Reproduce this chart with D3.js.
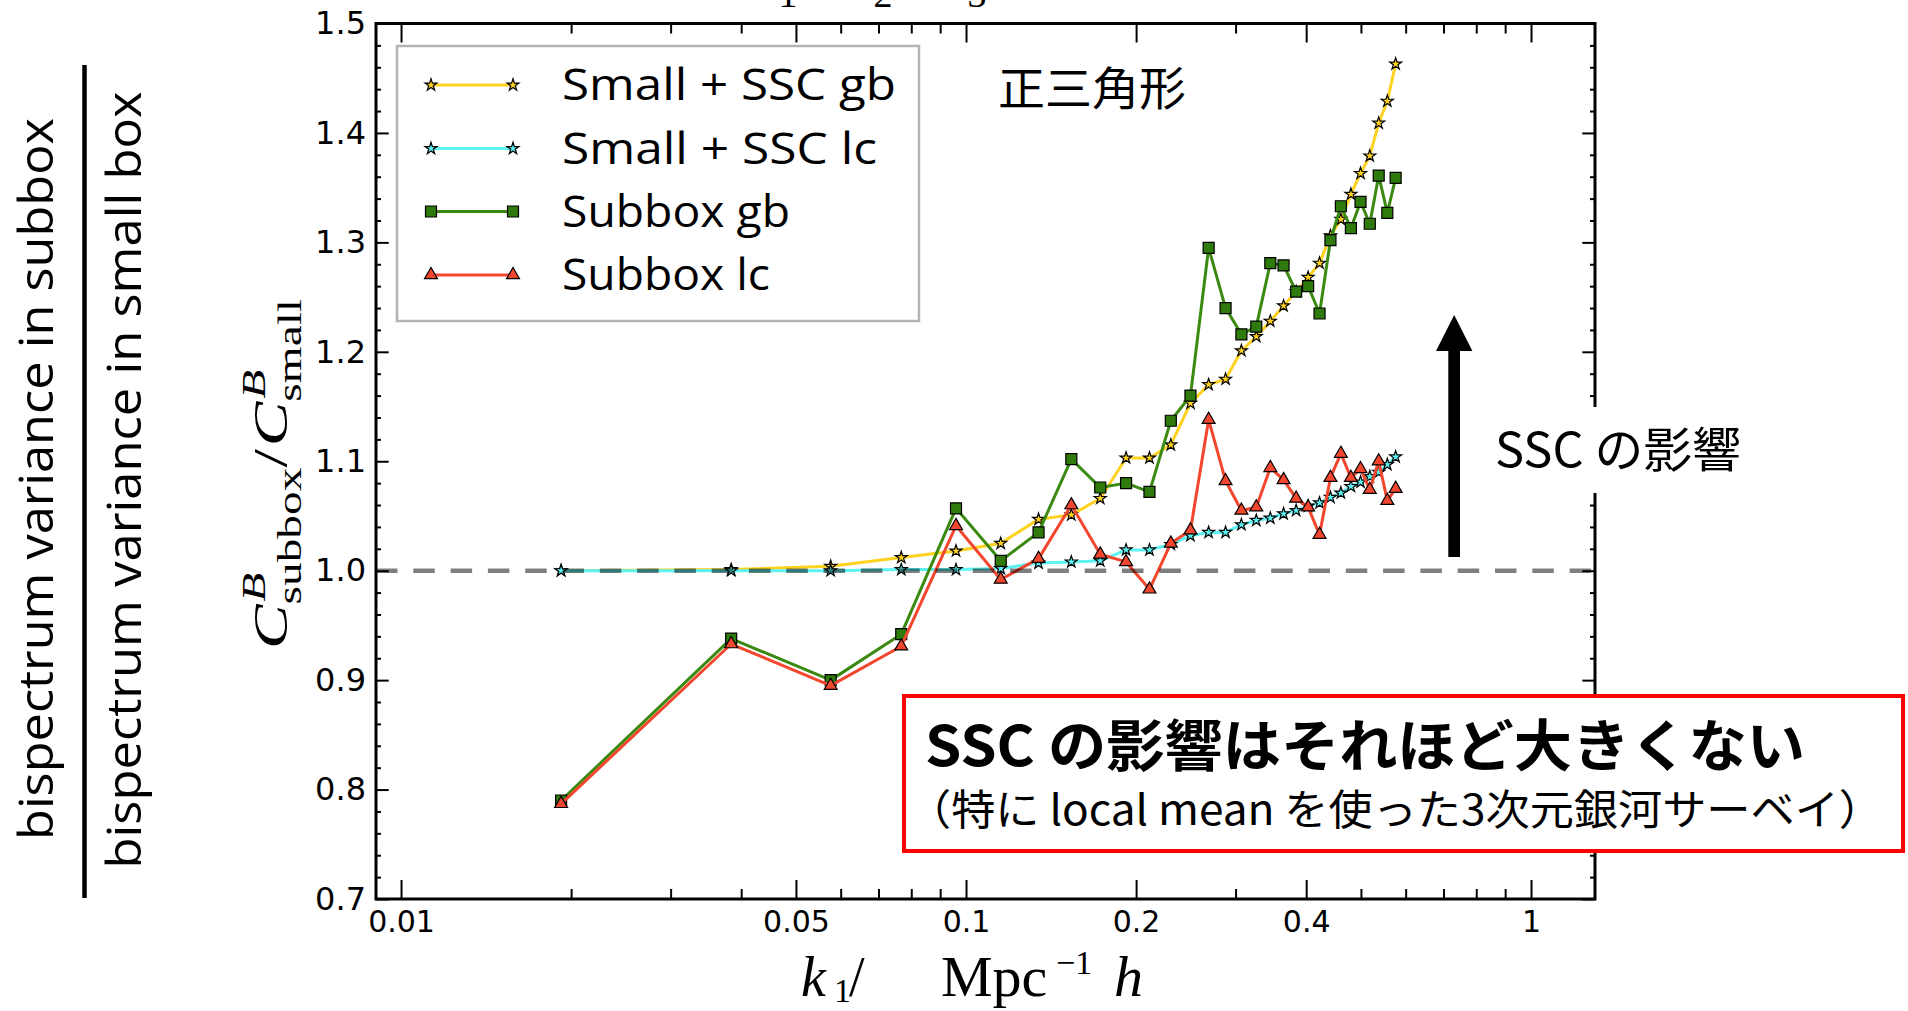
<!DOCTYPE html>
<html><head><meta charset="utf-8">
<script src="https://cdn.jsdelivr.net/npm/d3@7"></script>
<style>html,body{margin:0;padding:0;background:#fff;overflow:hidden}</style>
</head><body>
<svg id="c" width="1908" height="1011" xmlns="http://www.w3.org/2000/svg"></svg>
<script>
// ---------------- DATA ----------------
const kValues = [0.0192,0.0384,0.0576,0.0768,0.0960,0.1152,0.1344,0.1536,0.1728,0.1920,
                 0.2112,0.2304,0.2496,0.2688,0.2880,0.3072,0.3264,0.3456,0.3648,0.3840,
                 0.4032,0.4224,0.4416,0.4608,0.4800,0.4992,0.5184,0.5376,0.5568,0.5760];
const smallSscGb = [1.000,1.001,1.004,1.012,1.018,1.025,1.047,1.051,1.066,1.103,
                    1.103,1.115,1.153,1.170,1.175,1.201,1.214,1.228,1.242,1.255,
                    1.268,1.281,1.306,1.321,1.344,1.363,1.379,1.409,1.429,1.463];
const smallSscLc = [1.000,1.000,1.000,1.001,1.001,1.002,1.007,1.008,1.009,1.019,
                    1.019,1.024,1.032,1.035,1.035,1.042,1.046,1.048,1.052,1.055,
                    1.059,1.062,1.067,1.071,1.077,1.081,1.086,1.090,1.097,1.104];
const subboxGb   = [0.790,0.938,0.900,0.942,1.057,1.009,1.035,1.102,1.076,1.080,
                    1.072,1.137,1.160,1.295,1.240,1.216,1.223,1.281,1.279,1.255,
                    1.260,1.235,1.302,1.333,1.313,1.337,1.317,1.361,1.327,1.359];
const subboxLc   = [0.787,0.933,0.895,0.931,1.041,0.992,1.011,1.060,1.015,1.008,
                    0.983,1.025,1.037,1.138,1.082,1.055,1.058,1.094,1.083,1.066,
                    1.058,1.033,1.085,1.107,1.085,1.093,1.074,1.100,1.064,1.075];
const seriesNames = ["Small + SSC gb","Small + SSC lc","Subbox gb","Subbox lc"];
const xMajorTicks = [0.01,0.05,0.1,0.2,0.4,1];
const xTickLabels = ["0.01","0.05","0.1","0.2","0.4","1"];
const xMinorTicks = [0.02,0.03,0.04,0.06,0.07,0.08,0.09,0.3,0.5,0.6,0.7,0.8,0.9];
const yMajorTicks = [0.7,0.8,0.9,1.0,1.1,1.2,1.3,1.4,1.5];
const yTickLabels = ["0.7","0.8","0.9","1.0","1.1","1.2","1.3","1.4","1.5"];
const yMinorTicks = [0.72,0.74,0.76,0.78,0.82,0.84,0.86,0.88,0.92,0.94,0.96,0.98,
                     1.02,1.04,1.06,1.08,1.12,1.14,1.16,1.18,1.22,1.24,1.26,1.28,
                     1.32,1.34,1.36,1.38,1.42,1.44,1.46,1.48];
const referenceLevel = 1.0;
const leftLabelTop = "bispectrum variance in subbox";
const leftLabelBottom = "bispectrum variance in small box";
const shapeLabel = "正三角形";
const arrowLabel = "SSC の影響";
const boxLine1 = "SSC の影響はそれほど大きくない";
const boxLine2 = "（特に local mean を使った3次元銀河サーベイ）";

// ---------------- LAYOUT ----------------
const svg = d3.select("#c");
const X0 = 376, X1 = 1595, Y0 = 23.5, Y1 = 899;
const x = d3.scaleLog().domain([0.00903, 1.298]).range([X0, X1]);
const y = d3.scaleLinear().domain([0.7, 1.5]).range([Y1, Y0]);
const TICKFONT = "DejaVu Sans";
const SLIDEFONT = "'Open Sans', 'Noto Sans CJK JP', sans-serif";
const JPFONT = "'Noto Sans CJK JP', 'Noto Sans', sans-serif";
const MATHFONT = "'Liberation Serif', 'DejaVu Serif', serif";

svg.append("rect").attr("width",1908).attr("height",1011).attr("fill","#fff");

function styleAxis(g, fs) {
  g.select(".domain").remove();
  g.selectAll(".tick line").attr("stroke","#000").attr("stroke-width",2);
  g.selectAll(".tick text").attr("font-family",TICKFONT).attr("font-size",fs).attr("fill","#000");
}
// bottom
styleAxis(svg.append("g").attr("transform",`translate(0,${Y1})`)
  .call(d3.axisBottom(x).tickValues(xMajorTicks).tickFormat(d=>xTickLabels[xMajorTicks.indexOf(d)])
  .tickSize(-19).tickSizeOuter(0).tickPadding(12)), 30);
styleAxis(svg.append("g").attr("transform",`translate(0,${Y1})`)
  .call(d3.axisBottom(x).tickValues(xMinorTicks).tickFormat("").tickSize(-10).tickSizeOuter(0)), 30);
// top
styleAxis(svg.append("g").attr("transform",`translate(0,${Y0})`)
  .call(d3.axisTop(x).tickValues(xMajorTicks).tickFormat("").tickSize(-19).tickSizeOuter(0)), 30);
styleAxis(svg.append("g").attr("transform",`translate(0,${Y0})`)
  .call(d3.axisTop(x).tickValues(xMinorTicks).tickFormat("").tickSize(-10).tickSizeOuter(0)), 30);
// left
styleAxis(svg.append("g").attr("transform",`translate(${X0},0)`)
  .call(d3.axisLeft(y).tickValues(yMajorTicks).tickFormat(d=>yTickLabels[yMajorTicks.indexOf(d)])
  .tickSize(-12.7).tickSizeOuter(0).tickPadding(10)), 32);
styleAxis(svg.append("g").attr("transform",`translate(${X0},0)`)
  .call(d3.axisLeft(y).tickValues(yMinorTicks).tickFormat("").tickSize(-5).tickSizeOuter(0)), 32);
// right
styleAxis(svg.append("g").attr("transform",`translate(${X1},0)`)
  .call(d3.axisRight(y).tickValues(yMajorTicks).tickFormat("").tickSize(-12.7).tickSizeOuter(0)), 32);
styleAxis(svg.append("g").attr("transform",`translate(${X1},0)`)
  .call(d3.axisRight(y).tickValues(yMinorTicks).tickFormat("").tickSize(-5).tickSizeOuter(0)), 32);

// frame
svg.append("rect").attr("x",X0).attr("y",Y0).attr("width",X1-X0).attr("height",Y1-Y0)
  .attr("fill","none").attr("stroke","#000").attr("stroke-width",3);

// ---------------- SERIES ----------------
const series = [
  {name:seriesNames[0], values:smallSscGb, line:"#FFD21F", fill:"#FFD21F", sym:d3.symbolStar, size:44},
  {name:seriesNames[1], values:smallSscLc, line:"#5CF2F2", fill:"#5CF2F2", sym:d3.symbolStar, size:44},
  {name:seriesNames[2], values:subboxGb,   line:"#3A8A12", fill:"#2F7A0C", sym:d3.symbolSquare, size:121},
  {name:seriesNames[3], values:subboxLc,   line:"#F2472E", fill:"#F2472E", sym:d3.symbolTriangle, size:72}
];
const lineGen = d3.line().x(d=>x(d[0])).y(d=>y(d[1]));
series.forEach(s => {
  const pts = kValues.map((k,i)=>[k, s.values[i]]);
  const g = svg.append("g");
  g.append("path").attr("d", lineGen(pts)).attr("fill","none")
    .attr("stroke", s.line).attr("stroke-width",3).attr("stroke-linejoin","round");
  g.selectAll("path.m").data(pts).join("path").attr("class","m")
    .attr("transform", d=>`translate(${x(d[0])},${y(d[1])})`)
    .attr("d", d3.symbol().type(s.sym).size(s.size))
    .attr("fill", s.fill).attr("stroke","#000").attr("stroke-width",1.2);
});

// reference dashed line
svg.append("line").attr("x1",X0).attr("x2",X1).attr("y1",y(referenceLevel)).attr("y2",y(referenceLevel))
  .attr("stroke","#000").attr("stroke-opacity",0.5).attr("stroke-width",4.5).attr("stroke-dasharray","21.5 15.8");

// ---------------- LEGEND ----------------
const lg = svg.append("g");
lg.append("rect").attr("x",397).attr("y",46).attr("width",522).attr("height",275)
  .attr("fill","#fff").attr("stroke","#b4b4b4").attr("stroke-width",2.5);
const legendRows = [85, 148.5, 211.5, 275];
const legendWidths = [334, 315, 228, 208];
series.forEach((s,i) => {
  const yy = legendRows[i];
  lg.append("line").attr("x1",431).attr("x2",513).attr("y1",yy).attr("y2",yy)
    .attr("stroke",s.line).attr("stroke-width",3);
  [431,513].forEach(px => lg.append("path").attr("transform",`translate(${px},${yy})`)
    .attr("d", d3.symbol().type(s.sym).size(s.size)).attr("fill",s.fill).attr("stroke","#000").attr("stroke-width",1.2));
  lg.append("text").attr("x",562).attr("y",yy+15).attr("font-family",SLIDEFONT).attr("font-size",43)
    .attr("textLength",legendWidths[i]).attr("lengthAdjust","spacingAndGlyphs").text(s.name);
});

// ---------------- ANNOTATIONS ----------------
svg.append("text").attr("x",998).attr("y",105).attr("font-family",JPFONT).attr("font-size",46)
  .attr("textLength",188).attr("lengthAdjust","spacingAndGlyphs").text(shapeLabel);

// arrow
svg.append("rect").attr("x",1448.3).attr("y",348).attr("width",11.7).attr("height",557-348).attr("fill","#000");
svg.append("path").attr("d","M1436,351 L1454.2,315 L1472.4,351 Z").attr("fill","#000");

// SSC label with white background covering the axis
svg.append("rect").attr("x",1486).attr("y",407).attr("width",262).attr("height",86).attr("fill","#fff");
svg.append("text").attr("x",1495).attr("y",467).attr("font-family",JPFONT).attr("font-size",48)
  .attr("textLength",246).attr("lengthAdjust","spacingAndGlyphs").text(arrowLabel);

// red box
svg.append("rect").attr("x",904).attr("y",696).attr("width",999).attr("height",155)
  .attr("fill","#fff").attr("stroke","#ff0000").attr("stroke-width",4);
svg.append("text").attr("x",925).attr("y",766).attr("font-family",JPFONT).attr("font-weight",700)
  .attr("font-size",56).attr("textLength",880).attr("lengthAdjust","spacingAndGlyphs").text(boxLine1);
svg.append("text").attr("x",907).attr("y",825).attr("font-family",JPFONT)
  .attr("font-size",42).attr("textLength",976).attr("lengthAdjust","spacingAndGlyphs").text(boxLine2);

// ---------------- LEFT FRACTION LABEL ----------------
svg.append("text").attr("transform","translate(53,479) rotate(-90)").attr("text-anchor","middle")
  .attr("font-family",SLIDEFONT).attr("font-size",48)
  .attr("textLength",722).attr("lengthAdjust","spacingAndGlyphs").text(leftLabelTop);
svg.append("line").attr("x1",84.5).attr("x2",84.5).attr("y1",65).attr("y2",898)
  .attr("stroke","#000").attr("stroke-width",4.5);
svg.append("text").attr("transform","translate(141,480) rotate(-90)").attr("text-anchor","middle")
  .attr("font-family",SLIDEFONT).attr("font-size",48)
  .attr("textLength",777).attr("lengthAdjust","spacingAndGlyphs").text(leftLabelBottom);

// ---------------- Y AXIS MATH LABEL ----------------
(function(){
  const outer = svg.append("g").attr("transform","translate(287,474) rotate(-90)");
  const inner = outer.append("g");
  const F = 48, f2 = 34;
  let cx = 0;
  function add(t, it, fs, dy, px){
    const el = inner.append("text").attr("x",px).attr("y",dy).attr("font-family",MATHFONT)
      .attr("font-size",fs).attr("font-style",it?"italic":"normal").text(t);
    return el.node().getComputedTextLength();
  }
  function cTerm(sub){
    cx += add("C",1,F,0,cx);
    const wb = add("B",1,f2,-0.45*F,cx+2);
    const ws = add(sub,0,f2,0.3*F,cx);
    cx += Math.max(wb+2, ws);
  }
  cTerm("subbox");
  cx += add("/",0,F,0,cx) + 2;
  cTerm("small");
  const target = 350;
  inner.attr("transform",`scale(${target/cx},1) translate(${-cx/2},0)`);
})();

// ---------------- X AXIS MATH LABEL ----------------
(function(){
  const g = svg.append("g").attr("font-family",MATHFONT).attr("fill","#000");
  const t1 = g.append("text").attr("x",801).attr("y",996).attr("font-size",56);
  t1.append("tspan").attr("font-style","italic").text("k");
  t1.append("tspan").attr("x",834).attr("dy",6).attr("font-size",34).text("1");
  t1.append("tspan").attr("x",849).attr("dy",-6).text("/");
  const t2 = g.append("text").attr("x",941).attr("y",996).attr("font-size",58);
  t2.append("tspan").text("Mpc");
  t2.append("tspan").attr("x",1056).attr("dy",-22).attr("font-size",34).text("−1");
  t2.append("tspan").attr("x",1114).attr("dy",22).attr("font-style","italic").text("h");
})();

// title remnants (cropped at the top edge, as in the source figure)
(function(){
  const g = svg.append("g").attr("font-family",MATHFONT).attr("font-size",38).attr("text-anchor","middle");
  [["1",788],["2",883],["3",977]].forEach(p => g.append("text").attr("x",p[1]).attr("y",7).text(p[0]));
})();
</script>
</body></html>
